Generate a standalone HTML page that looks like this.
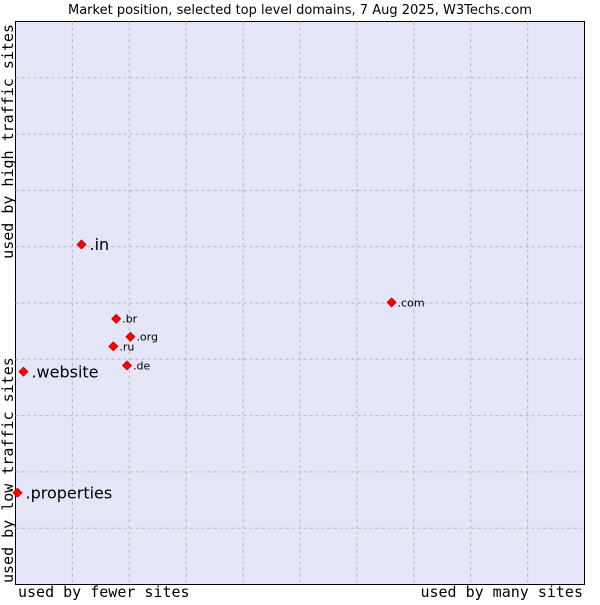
<!DOCTYPE html>
<html><head><meta charset="utf-8"><style>
body{margin:0;background:#fff;width:600px;height:600px;overflow:hidden}
svg{font-family:"DejaVu Sans",sans-serif}
</style></head><body>
<svg id="chart" width="600" height="600">
<text x="300" y="14" text-anchor="middle" font-size="13" fill="#000">Market position, selected top level domains, 7 Aug 2025, W3Techs.com</text>
<rect x="15.5" y="21.5" width="569" height="563" fill="#e4e5f7" stroke="#000"/>
<g id="grid"></g>
<g id="points"></g>
<text x="18" y="597" font-family="DejaVu Sans Mono,monospace" font-size="15">used by fewer sites</text>
<text x="583" y="597" text-anchor="end" font-family="DejaVu Sans Mono,monospace" font-size="15">used by many sites</text>
<text transform="translate(13,583) rotate(-90)" font-family="DejaVu Sans Mono,monospace" font-size="15">used by low traffic sites</text>
<text transform="translate(13,24) rotate(-90)" text-anchor="end" font-family="DejaVu Sans Mono,monospace" font-size="15">used by high traffic sites</text>
</svg>
<script>
const domains=[".in",".com",".br",".org",".ru",".de",".website",".properties"];
const xValues=[1.16,6.61,1.77,2.02,1.72,1.96,0.14,0.035];
const yValues=[6.04,5.01,4.72,4.40,4.23,3.89,3.78,1.63];
const bigLabel=[true,false,false,false,false,false,true,true];
const NS="http://www.w3.org/2000/svg";
const x0=15.5,x1=584.5,y0=584.5,y1=21.5;
const sx=v=>x0+(x1-x0)*v/10, sy=v=>y0-(y0-y1)*v/10;
const grid=document.getElementById('grid');
for(let i=1;i<10;i++){
 const v=document.createElementNS(NS,'line');
 
 
 v.setAttribute('x1',sx(i));v.setAttribute('x2',sx(i));v.setAttribute('y1',y1);v.setAttribute('y2',y0);
 v.setAttribute('stroke','#b8b8b8');v.setAttribute('stroke-dasharray','3,3');
 grid.appendChild(v);
 const h=document.createElementNS(NS,'line');
 
 
 h.setAttribute('y1',sy(i));h.setAttribute('y2',sy(i));h.setAttribute('x1',x0);h.setAttribute('x2',x1);
 h.setAttribute('stroke','#b8b8b8');h.setAttribute('stroke-dasharray','3,3');
 grid.appendChild(h);
}
const pts=document.getElementById('points');
domains.forEach((d,i)=>{
 const cx=sx(xValues[i]),cy=sy(yValues[i]);
 const p=document.createElementNS(NS,'polygon');
 
 
 p.setAttribute('points',`${cx},${cy-4.5} ${cx+4.5},${cy} ${cx},${cy+4.5} ${cx-4.5},${cy}`);
 p.setAttribute('fill','#ff0000');p.setAttribute('stroke','#c00000');p.setAttribute('stroke-width','0.8');
 pts.appendChild(p);
 const t=document.createElementNS(NS,'text');
 
 
 const fs=bigLabel[i]?16:11;
 t.setAttribute('x',cx+(bigLabel[i]?8:6));t.setAttribute('y',cy+fs*0.36);
 t.setAttribute('font-size',fs);t.textContent=d;
 pts.appendChild(t);
});
</script>
</body></html>
